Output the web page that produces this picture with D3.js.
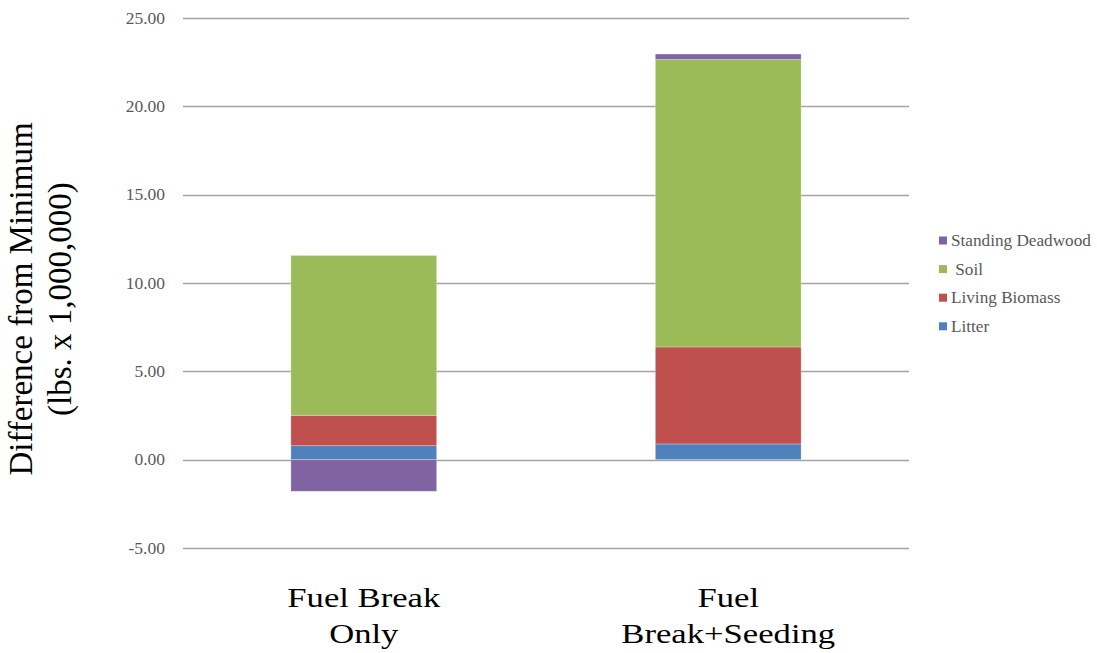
<!DOCTYPE html>
<html><head><meta charset="utf-8">
<script src="https://cdn.jsdelivr.net/npm/d3@7"></script>
<style>body{margin:0;background:#fff;} svg{display:block;}</style>
</head><body>
<svg id="chart" width="1097" height="653"></svg>
<script>
const categories = ["Fuel Break Only", "Fuel Break+Seeding"];
const categoryLines = [["Fuel Break", "Only"], ["Fuel", "Break+Seeding"]];
const seriesNames = ["Litter", "Living Biomass", "Soil", "Standing Deadwood"];
const litter = [0.79, 0.89];
const livingBiomass = [1.72, 5.49];
const soil = [9.05, 16.27];
const standingDeadwood = [-1.79, 0.31];
const yTicks = [-5, 0, 5, 10, 15, 20, 25];
const legendKeys = ["Standing Deadwood", "Soil", "Living Biomass", "Litter"];
const legendLabels = ["Standing Deadwood", "\u00a0Soil", "Living Biomass", "Litter"];
const colors = {"Litter":"#4F81BD","Living Biomass":"#C0504D","Soil":"#9BBB59","Standing Deadwood":"#8064A2"};

(function(){
const serif = "'Liberation Serif', 'Times New Roman', serif";
const rows = categories.map((c,i)=>({cat:c, "Litter":litter[i], "Living Biomass":livingBiomass[i], "Soil":soil[i], "Standing Deadwood":standingDeadwood[i]}));
const svg = d3.select("#chart");
const mLeft = 183, mRight = 909, mTop = 18, mBottom = 548;
const y = d3.scaleLinear().domain([-5,25]).range([mBottom, mTop]);
const x = d3.scaleBand().domain(categories).range([mLeft, mRight]).paddingInner(0.6).paddingOuter(0.296);

svg.append("g").selectAll("line").data(yTicks).join("line")
  .attr("x1", mLeft).attr("x2", mRight)
  .attr("y1", d=>Math.round(y(d))+0.5).attr("y2", d=>Math.round(y(d))+0.5)
  .attr("stroke", "#a3a3a3").attr("stroke-width", 1.4);
svg.append("g").selectAll("text").data(yTicks).join("text")
  .attr("x", 165).attr("y", d=>y(d)).attr("dy","0.33em")
  .attr("text-anchor","end").attr("font-family", serif)
  .attr("font-size", 17.5).attr("fill","#595959").text(d=>d.toFixed(2));

const stack = d3.stack().keys(seriesNames).offset(d3.stackOffsetDiverging);
const stacked = stack(rows);
svg.append("g").selectAll("g").data(stacked).join("g")
  .attr("fill", d=>colors[d.key])
  .selectAll("rect").data(d=>d).join("rect")
  .attr("x", d=>x(d.data.cat)).attr("width", x.bandwidth())
  .attr("y", d=>y(Math.max(d[0],d[1]))).attr("height", d=>Math.abs(y(d[0])-y(d[1])))
  .attr("stroke", "rgba(255,255,255,0.35)").attr("stroke-width", 0.8);

const xl = svg.append("g");
const lineY = [607, 643];
categories.forEach((c,i)=>{
  const cx = x(c)+x.bandwidth()/2;
  categoryLines[i].forEach((ln,j)=>{
    xl.append("text").attr("transform", `translate(${cx},${lineY[j]}) scale(1.26,1)`)
      .attr("text-anchor","middle").attr("font-family", serif)
      .attr("font-size", 27.5).attr("fill","#000").text(ln);
  });
});

const yt = svg.append("text").attr("transform","translate(0,299) rotate(-90)")
  .attr("text-anchor","middle").attr("font-family", serif)
  .attr("font-size", 33).attr("fill","#000");
yt.append("tspan").attr("x",0).attr("y",32).text("Difference from Minimum");
yt.append("tspan").attr("x",0).attr("y",71).text("(lbs. x 1,000,000)");

const lg = svg.append("g");
legendKeys.forEach((k,i)=>{
  const yy = 240.5 + i*28.6;
  lg.append("rect").attr("x",939).attr("y",yy-4).attr("width",8).attr("height",8).attr("fill",colors[k]);
  lg.append("text").attr("x",951).attr("y",yy).attr("dy","0.32em")
    .attr("font-family", serif).attr("font-size",17.2)
    .attr("fill","#595959").text(legendLabels[i]);
});
})();
</script>
</body></html>
